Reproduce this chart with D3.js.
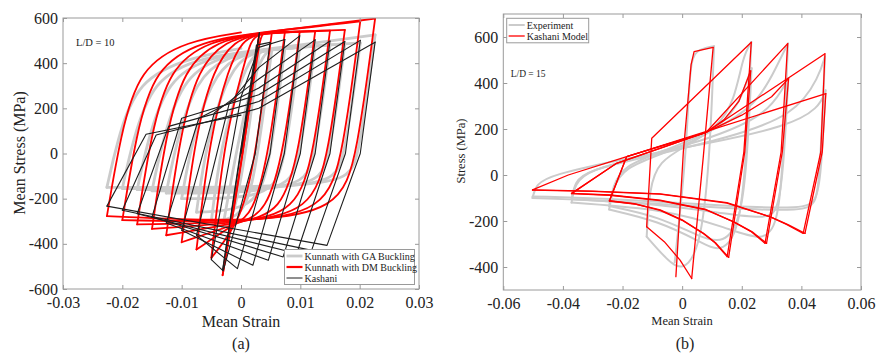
<!DOCTYPE html>
<html>
<head>
<meta charset="utf-8">
<script src="https://cdnjs.cloudflare.com/ajax/libs/d3/7.8.5/d3.min.js"></script>
<style>
  body { margin: 0; background: #fff; }
  text { font-family: "Liberation Serif", "Times New Roman", serif; }
</style>
</head>
<body>
<svg id="chart" width="876" height="353"></svg>
<script>
// ---------- panel (a) : L/D = 10 ----------
var strainTicksA = [-0.03, -0.02, -0.01, 0, 0.01, 0.02, 0.03];
var stressTicksA = [-600, -400, -200, 0, 200, 400, 600];

// each branch = control points [strain, stress]
var kunnathGA = [
    [[0, 0], [0.0025, 420], [0.0031, 455]],
    [[0.0031, 455], [0.0005, -60], [-0.0015, -300], [-0.0031, -330]],
    [[-0.0031, -330], [0.0005, 200], [0.0035, 440], [0.0052, 460]],
    [[0.0052, 460], [0.0026, -60], [0.0005, -290], [-0.0050, -300]],
    [[-0.0050, -300], [-0.0034, 40], [0.0000, 330], [0.0018, 430], [0.0040, 460], [0.0074, 465]],
    [[0.0074, 465], [0.0048, -60], [0.0023, -250], [-0.0075, -260]],
    [[-0.0075, -260], [-0.0059, 40], [-0.0025, 330], [0.0004, 430], [0.0040, 460], [0.0099, 470]],
    [[0.0099, 470], [0.0073, -60], [0.0048, -200], [-0.0100, -200]],
    [[-0.0100, -200], [-0.0084, 40], [-0.0050, 330], [-0.0010, 430], [0.0040, 460], [0.0125, 475]],
    [[0.0125, 475], [0.0098, -60], [0.0073, -175], [-0.0126, -175]],
    [[-0.0126, -175], [-0.0110, 40], [-0.0076, 330], [-0.0024, 430], [0.0040, 460], [0.0150, 480]],
    [[0.0150, 480], [0.0123, -60], [0.0098, -165], [-0.0150, -165]],
    [[-0.0150, -165], [-0.0134, 40], [-0.0100, 330], [-0.0037, 430], [0.0040, 460], [0.0175, 485]],
    [[0.0175, 485], [0.0148, -60], [0.0123, -160], [-0.0175, -160]],
    [[-0.0175, -160], [-0.0159, 40], [-0.0125, 330], [-0.0051, 430], [0.0040, 460], [0.0201, 490]],
    [[0.0201, 490], [0.0173, -60], [0.0148, -155], [-0.0200, -155]],
    [[-0.0200, -155], [-0.0184, 40], [-0.0150, 330], [-0.0065, 430], [0.0040, 460], [0.0226, 525]],
    [[0.0226, 525], [0.0197, -60], [0.0172, -150], [-0.0226, -150]],
    [[-0.0226, -150], [-0.0210, 40], [-0.0176, 330], [-0.0079, 430], [0.0, 465]]
];

var kunnathDM = [
    [[0, 0], [0.0031, 532]],
    [[0.0031, 532], [0.0004, 0], [-0.0031, -539]],
    [[-0.0031, -539], [0.0003, 0], [0.0031, 500], [0.0036, 535], [0.0052, 535]],
    [[0.0052, 535], [0.0025, 0], [0.0002, -290], [-0.0050, -462]],
    [[-0.0050, -462], [-0.0027, 80], [0.0004, 380], [0.0016, 500], [0.0031, 535], [0.0074, 538]],
    [[0.0074, 538], [0.0047, 0], [0.0020, -270], [-0.0010, -310], [-0.0075, -425]],
    [[-0.0075, -425], [-0.0052, 80], [-0.0021, 380], [0.0002, 500], [0.0031, 535], [0.0099, 540]],
    [[0.0099, 540], [0.0072, 0], [0.0042, -260], [0.0, -305], [-0.0100, -393]],
    [[-0.0100, -393], [-0.0077, 80], [-0.0046, 380], [-0.0011, 500], [0.0031, 535], [0.0125, 541]],
    [[0.0125, 541], [0.0098, 0], [0.0068, -260], [0.0, -305], [-0.0126, -362]],
    [[-0.0126, -362], [-0.0103, 80], [-0.0072, 380], [-0.0026, 500], [0.0031, 535], [0.0150, 544]],
    [[0.0150, 544], [0.0123, 0], [0.0093, -260], [0.0, -305], [-0.0150, -334]],
    [[-0.0150, -334], [-0.0127, 80], [-0.0096, 380], [-0.0039, 500], [0.0031, 535], [0.0175, 547]],
    [[0.0175, 547], [0.0148, 0], [0.0118, -260], [0.0, -305], [-0.0175, -314]],
    [[-0.0175, -314], [-0.0152, 80], [-0.0121, 380], [-0.0053, 500], [0.0031, 535], [0.0201, 585]],
    [[0.0201, 585], [0.0172, 0], [0.0142, -260], [0.0, -305], [-0.0200, -295]],
    [[-0.0200, -295], [-0.0177, 80], [-0.0146, 380], [-0.0066, 500], [0.0031, 535], [0.0226, 597]],
    [[0.0226, 597], [0.0196, 0], [0.0166, -260], [0.0, -305], [-0.0226, -277]],
    [[-0.0226, -277], [-0.0203, 80], [-0.0172, 380], [-0.0090, 500], [0.0, 536]]
];

var kashaniA = [
    [[0, 0], [0.0031, 535]],
    [[0.0031, 535], [-0.0031, -517]],
    [[-0.0031, -517], [0.0026, 480], [0.0049, 492]],
    [[0.0049, 492], [0.0024, 0], [-0.0030, -520], [-0.0050, -470]],
    [[-0.0050, -470], [0.0, 250], [0.0030, 470], [0.0074, 505]],
    [[0.0074, 505], [0.0049, 0], [-0.0006, -510], [-0.0075, -362]],
    [[-0.0075, -362], [-0.0020, 220], [0.0030, 380], [0.0099, 521]],
    [[0.0099, 521], [0.0073, 0], [0.0020, -495], [-0.0100, -340]],
    [[-0.0100, -340], [-0.0045, 180], [0.0030, 330], [0.0125, 503]],
    [[0.0125, 503], [0.0100, 0], [0.0046, -473], [-0.0126, -308]],
    [[-0.0126, -308], [-0.0071, 156], [0.0030, 290], [0.0150, 498]],
    [[0.0150, 498], [0.0125, 0], [0.0071, -458], [-0.0150, -281]],
    [[-0.0150, -281], [-0.0100, 156], [0.0030, 260], [0.0175, 496]],
    [[0.0175, 496], [0.0150, 0], [0.0094, -443], [-0.0175, -267]],
    [[-0.0175, -267], [-0.0122, 120], [0.0030, 230], [0.0201, 501]],
    [[0.0201, 501], [0.0176, 0], [0.0119, -429], [-0.0200, -251]],
    [[-0.0200, -251], [-0.0143, 82], [0.0030, 200], [0.0226, 493]],
    [[0.0226, 493], [0.0201, 0], [0.0145, -407], [-0.0226, -233]],
    [[-0.0226, -233], [-0.0160, 85], [0.0, 170]]
];

// ---------- panel (b) : L/D = 15 ----------
var strainTicksB = [-0.06, -0.04, -0.02, 0, 0.02, 0.04, 0.06];
var stressTicksB = [-400, -200, 0, 200, 400, 600];

var experimentB = [
    [[-0.0025, -380], [0.0015, 100], [0.0025, 480], [0.0045, 545], [0.0107, 560]],
    [[0.0107, 560], [0.0092, 50], [0.0060, -330], [0.0, -420], [-0.0050, -370], [-0.0119, -268]],
    [[-0.0119, -268], [-0.0110, -60], [-0.0080, 60], [0.0020, 130], [0.0120, 210], [0.0175, 320], [0.0205, 520], [0.0232, 578]],
    [[0.0232, 578], [0.0215, 60], [0.0190, -250], [0.0130, -340], [0.0060, -290], [-0.0080, -200], [-0.0245, -150]],
    [[-0.0245, -150], [-0.0232, -60], [-0.0200, 30], [-0.0050, 100], [0.0100, 180], [0.0190, 300], [0.0220, 420], [0.0233, 464]],
    [[0.0233, 464], [0.0217, 40], [0.0195, -200], [0.0140, -300], [0.0060, -270], [-0.0080, -180], [-0.0245, -135]],
    [[-0.0245, -135], [-0.0232, -50], [-0.0200, 40], [-0.0050, 110], [0.0100, 190], [0.0250, 300], [0.0320, 480], [0.0355, 572]],
    [[0.0355, 572], [0.0338, 40], [0.0320, -220], [0.0270, -290], [0.0150, -230], [-0.0050, -150], [-0.0371, -120]],
    [[-0.0371, -120], [-0.0360, -40], [-0.0320, 20], [-0.0100, 90], [0.0100, 160], [0.0280, 260], [0.0340, 380], [0.0356, 420]],
    [[0.0356, 420], [0.0340, 20], [0.0320, -160], [0.0280, -190], [0.0150, -170], [-0.0050, -130], [-0.0371, -105]],
    [[-0.0371, -105], [-0.0360, -30], [-0.0320, 20], [-0.0100, 85], [0.0150, 160], [0.0380, 260], [0.0460, 430], [0.0479, 515]],
    [[0.0479, 515], [0.0462, 0], [0.0450, -130], [0.0400, -155], [0.0200, -150], [-0.0200, -115], [-0.0502, -100]],
    [[-0.0502, -100], [-0.0490, -40], [-0.0440, 0], [-0.0200, 70], [0.0100, 140], [0.0350, 210], [0.0460, 290], [0.0481, 368]],
    [[0.0481, 368], [0.0466, 0], [0.0450, -120], [0.0400, -145], [0.0200, -140], [-0.0200, -105], [-0.0502, -93]]
];

var kashaniB = [
    [[-0.0021, -442], [0.0004, 100], [0.0030, 480], [0.0040, 536], [0.0104, 555]],
    [[0.0104, 555], [0.0071, 80], [0.0032, -450]],
    [[0.0032, -450], [-0.0007, -370], [-0.0060, -290], [-0.0119, -225]],
    [[-0.0119, -225], [-0.0102, 160], [0.0232, 577]],
    [[0.0232, 577], [0.0207, 100], [0.0151, -355]],
    [[0.0151, -355], [0.0110, -295], [0.0071, -254], [0.0, -195], [-0.0074, -152], [-0.0160, -125], [-0.0244, -112]],
    [[-0.0244, -112], [-0.0186, 80], [0.0080, 185], [0.0140, 240], [0.0190, 320], [0.0230, 453]],
    [[0.0230, 453], [0.0210, 100], [0.0156, -358]],
    [[0.0156, -358], [0.0114, -297], [0.0074, -256], [0.0, -197], [-0.0074, -154], [-0.0160, -126], [-0.0244, -113]],
    [[-0.0244, -113], [-0.0186, 80], [0.0080, 185], [0.0354, 571]],
    [[0.0354, 571], [0.0332, 100], [0.0278, -297]],
    [[0.0278, -297], [0.0230, -245], [0.0171, -203], [0.0080, -150], [-0.0074, -109], [-0.0242, -87], [-0.0371, -80]],
    [[-0.0371, -80], [-0.0220, 51], [0.0080, 185], [0.0200, 260], [0.0300, 340], [0.0357, 419]],
    [[0.0357, 419], [0.0336, 100], [0.0283, -297]],
    [[0.0283, -297], [0.0235, -247], [0.0175, -205], [0.0080, -152], [-0.0074, -111], [-0.0242, -88], [-0.0371, -81]],
    [[-0.0371, -81], [-0.0220, 51], [0.0080, 185], [0.0479, 527]],
    [[0.0479, 527], [0.0465, 100], [0.0406, -254]],
    [[0.0406, -254], [0.0350, -215], [0.0294, -181], [0.0150, -120], [-0.0074, -82], [-0.0300, -70], [-0.0502, -65]],
    [[-0.0502, -65], [-0.0382, 0], [-0.0186, 80], [0.0482, 354]],
    [[0.0482, 354], [0.0470, 100], [0.0412, -254]],
    [[0.0412, -254], [0.0355, -216], [0.0298, -183], [0.0150, -122], [-0.0074, -83], [-0.0300, -71], [-0.0502, -66]]
];

var svg = d3.select("#chart");
var fmt = function (d) { return String(d); };
var boxColor = "#9a9a9a";
var serif = '"Liberation Serif", "Times New Roman", serif';

function drawPanel(p) {
    var x = d3.scaleLinear().domain(p.xDomain).range([p.left, p.right]);
    var y = d3.scaleLinear().domain(p.yDomain).range([p.bottom, p.top]);
    var g = svg.append("g");

    g.append("clipPath").attr("id", p.id + "-clip")
        .append("rect")
        .attr("x", p.left).attr("y", p.top)
        .attr("width", p.right - p.left).attr("height", p.bottom - p.top);

    // the loops
    p.series.forEach(function (s) {
        var line = d3.line()
            .x(function (d) { return x(d[0]); })
            .y(function (d) { return y(d[1]); })
            .curve(s.curve);
        g.append("g")
            .attr("clip-path", "url(#" + p.id + "-clip)")
            .selectAll("path")
            .data(s.branches)
            .join("path")
            .attr("d", line)
            .attr("fill", "none")
            .attr("stroke", s.color)
            .attr("stroke-width", s.width)
            .attr("stroke-linejoin", "round")
            .attr("stroke-linecap", "round");
    });

    // box + inward ticks on all sides (matlab look)
    g.append("rect")
        .attr("x", p.left).attr("y", p.top)
        .attr("width", p.right - p.left).attr("height", p.bottom - p.top)
        .attr("fill", "none").attr("stroke", boxColor).attr("stroke-width", 1);

    var axes = [
        { a: d3.axisBottom(x).tickValues(p.xTicks).tickFormat(fmt).tickPadding(8), t: "translate(0," + p.bottom + ")" },
        { a: d3.axisTop(x).tickValues(p.xTicks).tickFormat(""), t: "translate(0," + p.top + ")" },
        { a: d3.axisLeft(y).tickValues(p.yTicks).tickFormat(fmt).tickPadding(5), t: "translate(" + p.left + ",0)" },
        { a: d3.axisRight(y).tickValues(p.yTicks).tickFormat(""), t: "translate(" + p.right + ",0)" }
    ];
    axes.forEach(function (ax) {
        var ag = g.append("g").attr("transform", ax.t)
            .call(ax.a.tickSizeInner(-4).tickSizeOuter(0))
            .attr("font-family", serif)
            .attr("font-size", 16);
        ag.select(".domain").remove();
        ag.selectAll(".tick line").attr("stroke", boxColor);
        ag.selectAll(".tick text").attr("fill", "#222");
    });

    // labels
    g.append("text")
        .attr("x", p.xLabelX).attr("y", p.xLabelY)
        .attr("text-anchor", "middle")
        .style("font-size", p.labelSize + "px").attr("fill", "#222")
        .text(p.xLabel);
    g.append("text")
        .attr("transform", "translate(" + p.yLabelX + "," + p.yLabelY + ") rotate(-90)")
        .attr("text-anchor", "middle")
        .style("font-size", p.labelSize + "px").attr("fill", "#222")
        .text(p.yLabel);
    g.append("text")
        .attr("x", p.capX).attr("y", 349)
        .attr("text-anchor", "middle")
        .style("font-size", "16px").attr("fill", "#222")
        .text(p.caption);
    g.append("text")
        .attr("x", p.ldX).attr("y", p.ldY)
        .style("font-size", p.ldSize + "px").attr("fill", "#222")
        .text(p.ld);

    // legend
    var lg = p.legend;
    g.append("rect")
        .attr("x", lg.x).attr("y", lg.y).attr("width", lg.w).attr("height", lg.h)
        .attr("fill", "#fff").attr("stroke", boxColor).attr("stroke-width", 1);
    lg.items.forEach(function (it, i) {
        var yy = lg.y + lg.first + i * lg.step;
        g.append("line")
            .attr("x1", lg.x + 2).attr("x2", lg.x + 18)
            .attr("y1", yy).attr("y2", yy)
            .attr("stroke", it.color).attr("stroke-width", it.width);
        g.append("text")
            .attr("x", lg.x + 20).attr("y", yy + 3.5)
            .style("font-size", "10px").attr("fill", "#222")
            .text(it.name);
    });
}

drawPanel({
    id: "pa", left: 63, right: 419, top: 18, bottom: 289,
    xDomain: [-0.03, 0.03], yDomain: [-600, 600],
    xTicks: strainTicksA, yTicks: stressTicksA,
    series: [
        { branches: kunnathGA, color: "#cbcbcb", width: 2.8, curve: d3.curveBasis },
        { branches: kunnathDM, color: "#ff0000", width: 1.8, curve: d3.curveBasis },
        { branches: kashaniA, color: "#1e1e1e", width: 1.1, curve: d3.curveLinear }
    ],
    xLabel: "Mean Strain", xLabelX: 241, xLabelY: 327,
    yLabel: "Mean Stress (MPa)", yLabelX: 25, yLabelY: 153,
    labelSize: 16, caption: "(a)", capX: 241,
    ld: "L/D = 10", ldX: 76, ldY: 46, ldSize: 10.5,
    legend: {
        x: 284.5, y: 249.5, w: 130, h: 35, first: 6.5, step: 11,
        items: [
            { name: "Kunnath with GA Buckling", color: "#cbcbcb", width: 2.8 },
            { name: "Kunnath with DM Buckling", color: "#ff0000", width: 2.2 },
            { name: "Kashani", color: "#1e1e1e", width: 1 }
        ]
    }
});

drawPanel({
    id: "pb", left: 503.3, right: 861, top: 14, bottom: 290,
    xDomain: [-0.06, 0.06], yDomain: [-500, 700],
    xTicks: strainTicksB, yTicks: stressTicksB,
    series: [
        { branches: experimentB, color: "#cbcbcb", width: 2, curve: d3.curveBasis },
        { branches: kashaniB, color: "#ff0000", width: 1.3, curve: d3.curveLinear }
    ],
    xLabel: "Mean Strain", xLabelX: 682, xLabelY: 325,
    yLabel: "Stress (MPa)", yLabelX: 465, yLabelY: 151,
    labelSize: 12.5, caption: "(b)", capX: 685,
    ld: "L/D = 15", ldX: 510.7, ldY: 77, ldSize: 9.5,
    legend: {
        x: 506.7, y: 18.3, w: 82, h: 24.5, first: 6.7, step: 11,
        items: [
            { name: "Experiment", color: "#cbcbcb", width: 2 },
            { name: "Kashani Model", color: "#ff0000", width: 1.3 }
        ]
    }
});
</script>
</body>
</html>
